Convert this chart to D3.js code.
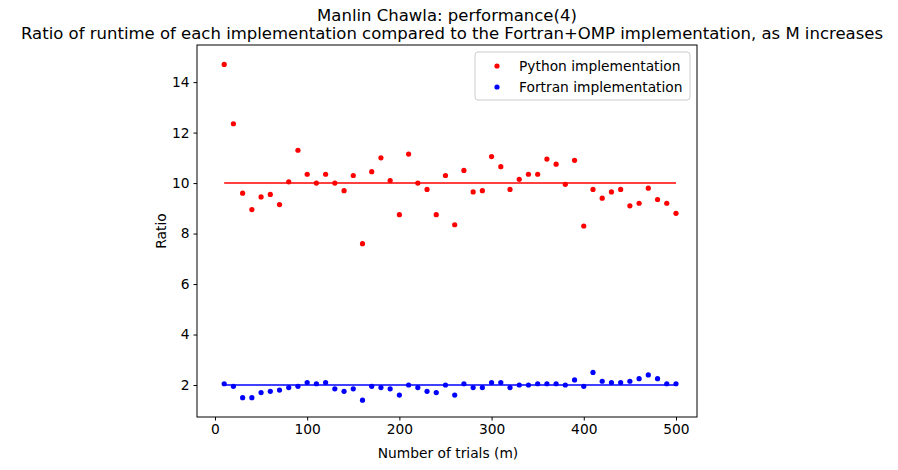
<!DOCTYPE html>
<html><head><meta charset="utf-8">
<script src="https://cdn.jsdelivr.net/npm/d3@7"></script>
<style>body{margin:0;background:#fff;font-family:"DejaVu Sans",sans-serif;}</style>
</head><body><svg id="c" width="898" height="470"></svg>
<script>
const trials = d3.range(10, 501, 10);
const python = [14.7,12.35,9.6,8.95,9.45,9.55,9.15,10.05,11.3,10.35,10.0,10.35,10.0,9.7,10.3,7.6,10.45,11.0,10.1,8.75,
  11.15,10.0,9.75,8.75,10.3,8.35,10.5,9.65,9.7,11.05,10.65,9.75,10.15,10.35,10.35,10.95,10.75,9.95,10.9,8.3,
  9.75,9.4,9.65,9.75,9.1,9.2,9.8,9.35,9.2,8.8];
const fortran = [2.05,1.95,1.5,1.5,1.7,1.75,1.8,1.9,1.95,2.1,2.05,2.1,1.85,1.75,1.85,1.4,1.95,1.9,1.85,1.6,
  2.0,1.9,1.75,1.7,2.0,1.6,2.05,1.9,1.9,2.1,2.1,1.9,2.0,2.0,2.05,2.05,2.05,2.0,2.2,1.95,
  2.5,2.15,2.1,2.1,2.15,2.25,2.4,2.25,2.05,2.05];
const pythonMean = 10, fortranMean = 2;
const xTicks = [0,100,200,300,400,500];
const yTicks = [2,4,6,8,10,12,14];

const L = 197, R = 697, T = 45, B = 417;
const FS = 13.8;
const svg = d3.select('#c');
const x = d3.scaleLinear().domain([-19.5, 522.8]).range([L, R]);
const y = d3.scaleLinear().domain([0.733, 15.47]).range([B, T]);

svg.append('g').attr('transform', 'translate(0,' + B + ')')
  .call(d3.axisBottom(x).tickValues(xTicks).tickSize(3.5).tickPadding(4).tickSizeOuter(0))
  .call(g => g.select('.domain').remove())
  .selectAll('text').attr('font-size', FS).attr('font-family', 'DejaVu Sans');
svg.append('g').attr('transform', 'translate(' + L + ',0)')
  .call(d3.axisLeft(y).tickValues(yTicks).tickSize(3.5).tickPadding(4).tickSizeOuter(0))
  .call(g => g.select('.domain').remove())
  .selectAll('text').attr('font-size', FS).attr('font-family', 'DejaVu Sans');

svg.append('rect').attr('x', L).attr('y', T).attr('width', R - L).attr('height', B - T)
  .attr('fill', 'none').attr('stroke', '#000').attr('stroke-width', 1);

[[pythonMean, 'red'], [fortranMean, 'blue']].forEach(([m, c]) => {
  svg.append('line').attr('x1', x(10)).attr('x2', x(500)).attr('y1', y(m)).attr('y2', y(m))
    .attr('stroke', c).attr('stroke-width', 1.5);
});
[[python, 'red'], [fortran, 'blue']].forEach(([d, c]) => {
  svg.append('g').selectAll('circle').data(d).enter().append('circle')
    .attr('cx', (v, i) => x(trials[i])).attr('cy', v => y(v)).attr('r', 2.6).attr('fill', c);
});

svg.append('text').attr('x', 447).attr('y', 21).attr('text-anchor', 'middle').attr('font-size', 16.5)
  .text('Manlin Chawla: performance(4)');
svg.append('text').attr('x', 452).attr('y', 39).attr('text-anchor', 'middle').attr('font-size', 16.5)
  .text('Ratio of runtime of each implementation compared to the Fortran+OMP implementation, as M increases');
svg.append('text').attr('x', 448).attr('y', 458).attr('text-anchor', 'middle').attr('font-size', FS)
  .text('Number of trials (m)');
svg.append('text').attr('transform', 'translate(166,231) rotate(-90)').attr('text-anchor', 'middle').attr('font-size', FS)
  .text('Ratio');

const lg = svg.append('g');
lg.append('rect').attr('x', 475).attr('y', 52).attr('width', 215).attr('height', 48).attr('rx', 3)
  .attr('fill', '#fff').attr('stroke', '#ccc');
[['Python implementation', 'red'], ['Fortran implementation', 'blue']].forEach(([t, c], i) => {
  lg.append('circle').attr('cx', 497).attr('cy', 66 + i * 21).attr('r', 2.6).attr('fill', c);
  lg.append('text').attr('x', 519).attr('y', 71 + i * 21).attr('font-size', FS).text(t);
});
</script></body></html>
